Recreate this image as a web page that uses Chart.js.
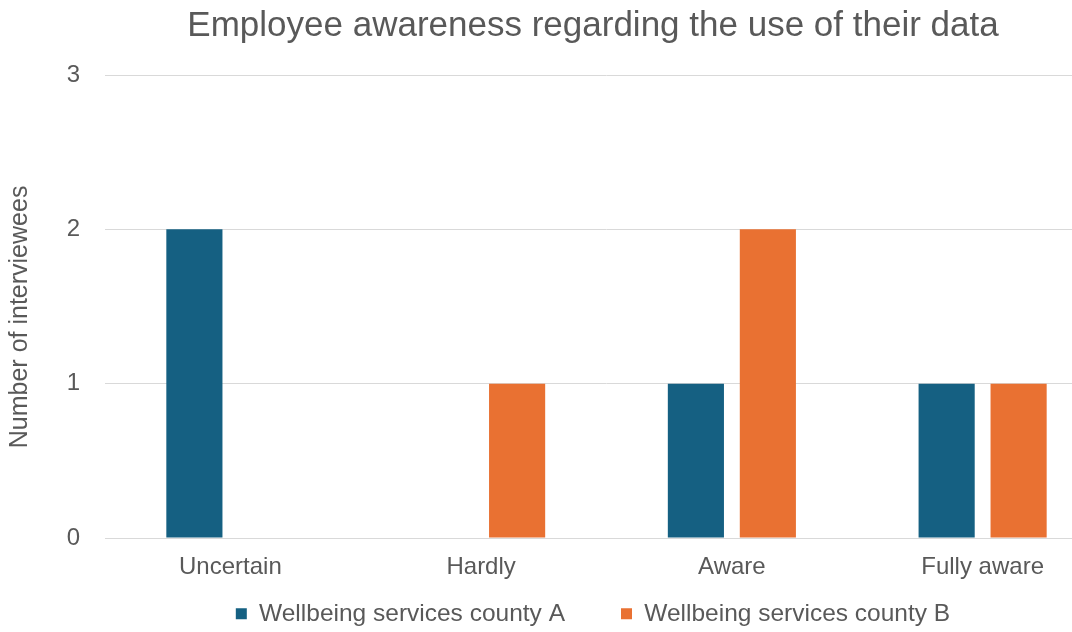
<!DOCTYPE html>
<html>
<head>
<meta charset="utf-8">
<script src="https://cdn.jsdelivr.net/npm/chart.js@4"></script>
<style>
  html, body { margin: 0; padding: 0; background: #fff; overflow: hidden; }
  #wrap { width: 1072px; height: 632px; overflow: hidden; }
  #box { width: 1186px; height: 632px; }
</style>
</head>
<body>
<div id="wrap"><div id="box"><canvas id="chart"></canvas></div></div>
<script>
// Chart data
const categories = ['Uncertain', 'Hardly', 'Aware', 'Fully aware'];
const countyA = [2, 0, 1, 1];
const countyB = [0, 1, 2, 1];
const seriesNames = ['Wellbeing services county A', 'Wellbeing services county B'];
const yTicks = [0, 1, 2, 3];

const grey = '#595959';
const font = 'Liberation Sans, Arial, sans-serif';

// legend padding also sets the gap between items, so pull the legend box up
// after layout to keep the text on its original line
const legendShift = {
    id: 'legendShift',
    afterLayout(chart) {
        const lg = chart.legend;
        lg.top = 545.5;
        lg.bottom = chart.height;
        lg.height = lg.bottom - lg.top;
    }
};

const ctx = document.getElementById('chart').getContext('2d');
const chart = new Chart(ctx, {
    type: 'bar',
    data: {
        labels: categories,
        datasets: [{
            label: seriesNames[0],
            data: countyA,
            backgroundColor: '#156082'
        }, {
            label: seriesNames[1],
            data: countyB,
            backgroundColor: '#E97132'
        }]
    },
    plugins: [legendShift],
    options: {
        responsive: true,
        maintainAspectRatio: false,
        animation: false,
        categoryPercentage: 0.574,
        barPercentage: 0.78,
        layout: { padding: { left: 0, right: 0, top: 0, bottom: 0 } },
        plugins: {
            title: {
                display: true,
                text: 'Employee awareness regarding the use of their data',
                color: grey,
                font: { family: font, size: 35, weight: 'normal' },
                padding: { top: 5, bottom: 28 }
            },
            legend: {
                position: 'bottom',
                maxHeight: 46,
                labels: {
                    color: grey,
                    font: { family: font, size: 24.5 },
                    boxWidth: 11,
                    boxHeight: 11,
                    padding: 56
                }
            },
            tooltip: { enabled: false }
        },
        scales: {
            x: {
                grid: { display: false },
                border: { color: '#d9d9d9', width: 1 },
                ticks: {
                    color: grey,
                    font: { family: font, size: 24 },
                    padding: 7
                },
                afterFit(scale) { scale.height = 48; }
            },
            y: {
                min: 0,
                max: 3,
                afterBuildTicks(scale) { scale.ticks = yTicks.map(v => ({ value: v })); },
                grid: { color: '#d9d9d9', drawTicks: false },
                border: { display: false },
                ticks: {
                    color: grey,
                    font: { family: font, size: 24 },
                    padding: 25
                },
                title: {
                    display: true,
                    text: 'Number of interviewees   ',
                    color: grey,
                    font: { family: font, size: 25 },
                    padding: { top: 5, bottom: 0 }
                },
                afterFit(scale) { scale.width = 105; }
            },
            // empty right margin (the original picture is cropped on the right)
            yRight: {
                type: 'linear',
                position: 'right',
                display: true,
                grid: { display: false },
                border: { display: false },
                ticks: { display: false },
                afterFit(scale) { scale.width = 78; }
            }
        }
    }
});
</script>
</body>
</html>
